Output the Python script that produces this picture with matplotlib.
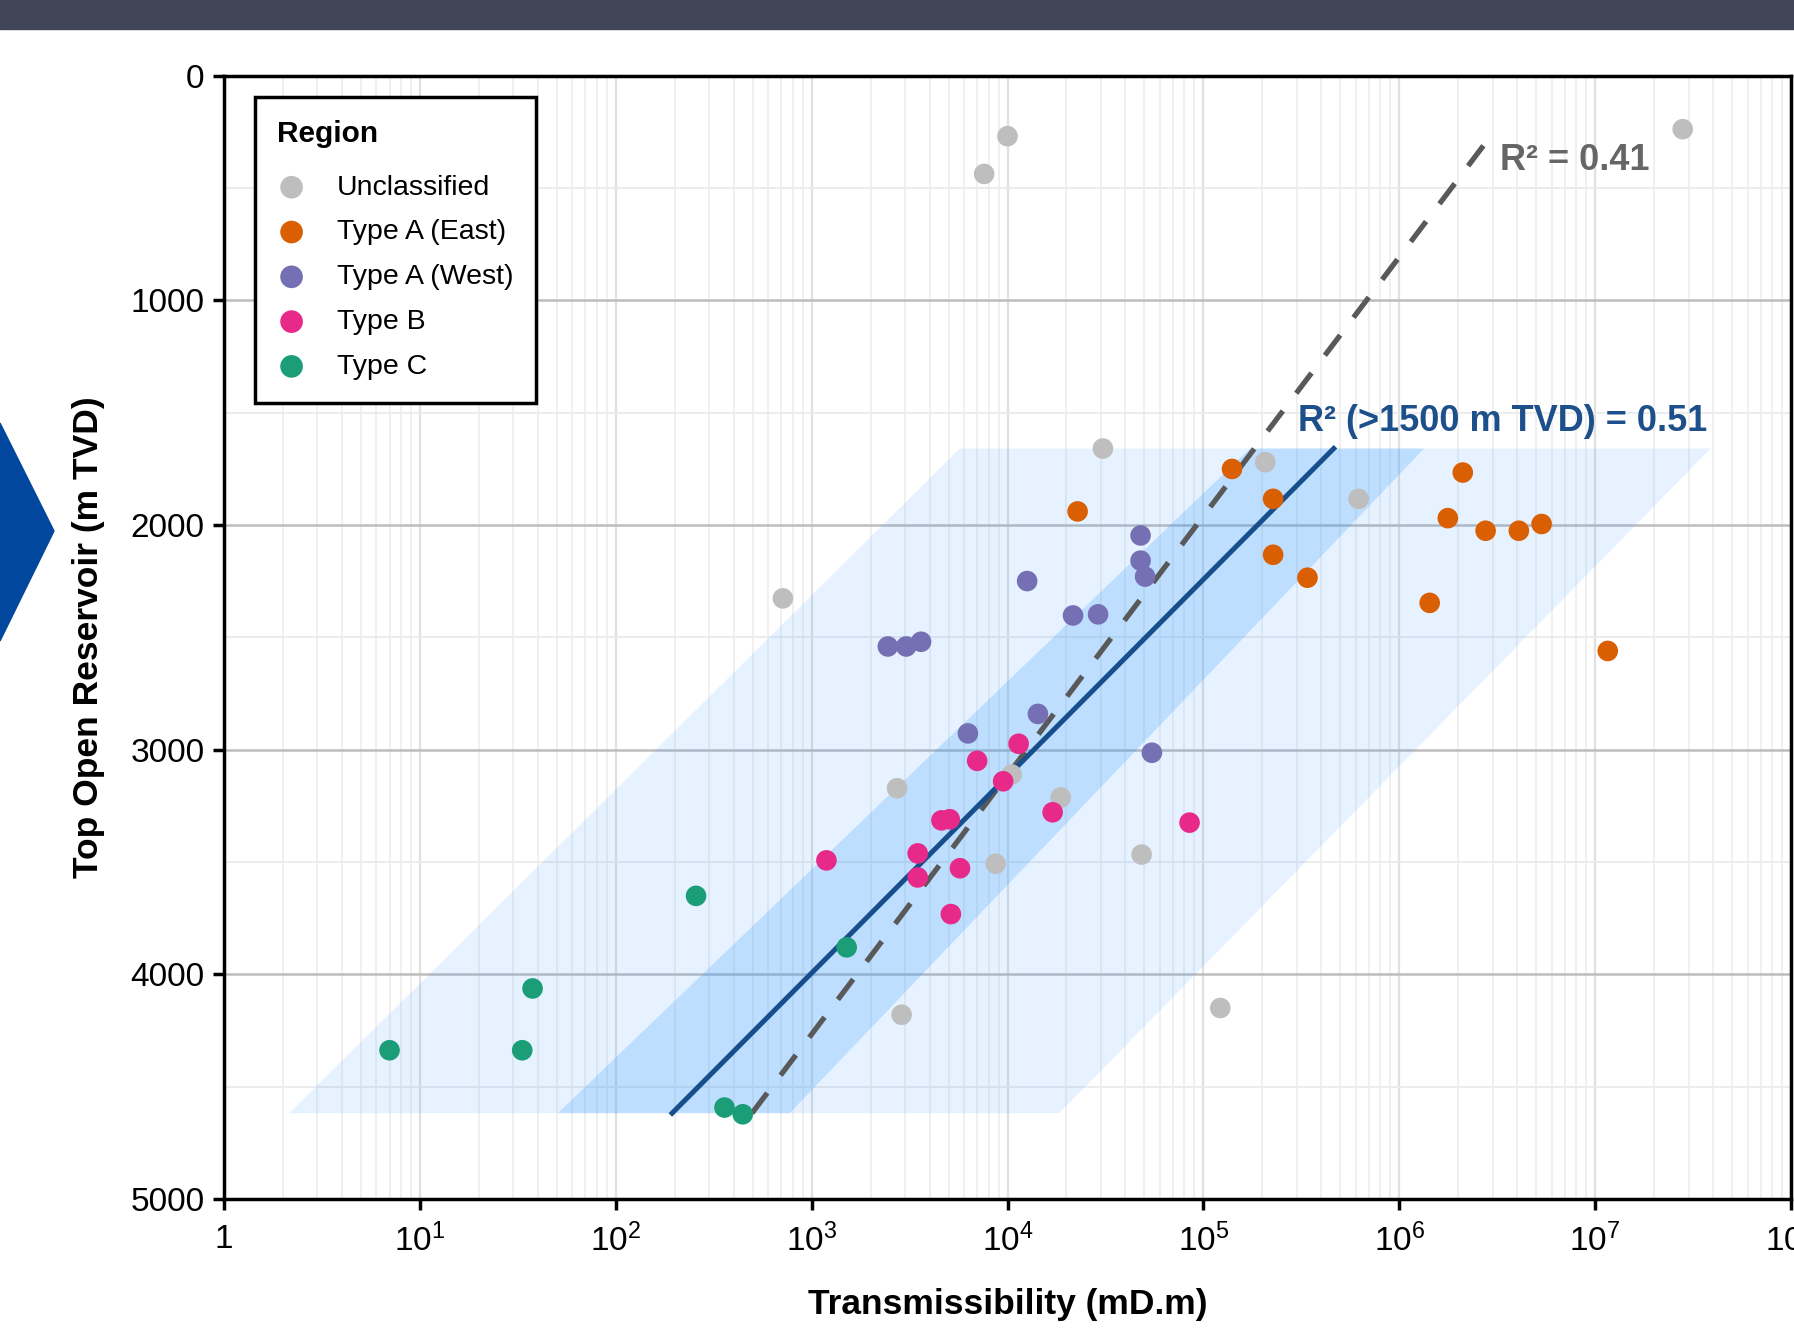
import numpy as np
import matplotlib.pyplot as plt
from matplotlib import ticker
from matplotlib.patches import Polygon, Rectangle

plt.rcParams.update({
    "font.family": "Liberation Sans",
    "mathtext.fontset": "custom",
    "mathtext.rm": "Liberation Sans",
    "mathtext.it": "Liberation Sans:italic",
    "mathtext.bf": "Liberation Sans:bold",
})

# points: transmissibility (mD.m), top open reservoir (m TVD)
unclass_t = [7.6e3, 1.0e4, 2.8e7, 3.07e4, 2.07e5, 6.2e5, 713, 2730, 1.87e4,
             1.05e4, 8.7e3, 4.84e4, 2.88e3, 1.22e5]
unclass_d = [438, 270, 239, 1660, 1721, 1884, 2327, 3172, 3213,
             3111, 3508, 3467, 4180, 4150]

east_t = [1.4e5, 2.11e6, 2.28e4, 2.27e5, 1.77e6, 2.76e6, 4.08e6, 5.33e6,
          2.27e5, 3.4e5, 1.43e6, 1.16e7]
east_d = [1751, 1767, 1940, 1884, 1970, 2026, 2026, 1996,
          2133, 2235, 2347, 2561]

west_t = [4.78e4, 4.78e4, 5.04e4, 1.26e4, 2.16e4, 2.9e4, 2.45e3, 3.04e3,
          3.62e3, 1.43e4, 6.28e3, 5.46e4]
west_d = [2047, 2159, 2230, 2250, 2403, 2398, 2541, 2541,
          2520, 2841, 2928, 3014]

typeb_t = [1.14e4, 7.0e3, 9.5e3, 1.7e4, 8.5e4, 4.6e3, 5.07e3, 1.19e3,
           3.48e3, 3.48e3, 5.72e3, 5.14e3]
typeb_d = [2974, 3050, 3141, 3279, 3325, 3315, 3310, 3493,
           3462, 3569, 3528, 3732]

typec_t = [257, 1.51e3, 37.6, 7.0, 33.3, 359, 445]
typec_d = [3651, 3880, 4063, 4338, 4338, 4593, 4623]

# fit lines and bands (corners)
fit_t = [194, 4.63e5]
fit_d = [4618, 1660]
all_fit_t = [496, 2.84e6]
all_fit_d = [4618, 285]
band_d = [4618, 4618, 1660, 1660]
outer_band_t = [2.15, 1.84e4, 3.89e7, 5.71e3]
inner_band_t = [50.6, 773, 1.34e6, 1.73e5]

x_ticks = [1, 1e1, 1e2, 1e3, 1e4, 1e5, 1e6, 1e7, 1e8]
x_tick_labels = ["1", "$10^{1}$", "$10^{2}$", "$10^{3}$", "$10^{4}$",
                 "$10^{5}$", "$10^{6}$", "$10^{7}$", "$10^{8}$"]
y_ticks = [0, 1000, 2000, 3000, 4000, 5000]

fig = plt.figure(figsize=(17.94, 13.35), dpi=100)
ax = fig.add_axes([224 / 1794, 136 / 1335, 1567 / 1794, 1123.5 / 1335])

# header bar and chevron from the slide
fig.add_artist(Rectangle((0, 1 - 29 / 1335), 1, 29 / 1335, transform=fig.transFigure,
                         color="#3f4556", zorder=0))
fig.add_artist(Polygon([(0, 1 - 423 / 1335), (54 / 1794, 1 - 531 / 1335), (0, 1 - 641 / 1335)],
                       closed=True, transform=fig.transFigure, color="#02479e"))

ax.fill(outer_band_t, band_d, color="#3399ff", alpha=0.12, lw=0, zorder=2)
ax.fill(inner_band_t, band_d, color="#3399ff", alpha=0.22, lw=0, zorder=2)

ax.plot(all_fit_t, all_fit_d, color="#595959", lw=3.8, ls=(0, (4.8, 4.2)), zorder=3)
ax.plot(fit_t, fit_d, color="#174f8c", lw=3.6, zorder=3)

groups = [
    (unclass_t, unclass_d, "#bebebe", "Unclassified"),
    (east_t, east_d, "#d95f02", "Type A (East)"),
    (west_t, west_d, "#7570b3", "Type A (West)"),
    (typeb_t, typeb_d, "#e7298a", "Type B"),
    (typec_t, typec_d, "#1b9e77", "Type C"),
]
for t, d, c, lab in groups:
    ax.scatter(t, d, s=220, color=c, edgecolors="none", label=lab, zorder=4)

ax.text(3.25e6, 377, "R² = 0.41", color="#666666", fontsize=26, fontweight="bold",
        ha="left", va="center", zorder=5)
ax.text(3.05e5, 1538, "R² (>1500 m TVD) = 0.51", color="#1d4f8a", fontsize=26,
        fontweight="bold", ha="left", va="center", zorder=5)

ax.set_xscale("log")
ax.set_xlim(1, 1e8)
ax.set_ylim(5000, 0)
ax.set_xticks(x_ticks)
ax.set_xticklabels(x_tick_labels)
ax.set_yticks(y_ticks)
ax.xaxis.set_minor_locator(ticker.LogLocator(base=10, subs=np.arange(2, 10), numticks=30))
ax.xaxis.set_minor_formatter(ticker.NullFormatter())
ax.yaxis.set_minor_locator(ticker.MultipleLocator(500))

ax.set_axisbelow(True)
ax.grid(which="major", axis="y", color="#bdbdbd", lw=1.8)
ax.grid(which="minor", axis="y", color="#ebebeb", lw=1.3)
ax.grid(which="major", axis="x", color="#e0e0e0", lw=1.6)
ax.grid(which="minor", axis="x", color="#ececec", lw=1.1)

ax.tick_params(which="major", length=8, width=2.5, labelsize=24, pad=6)
ax.tick_params(axis="x", which="major", pad=10)
ax.tick_params(which="minor", length=0)
for s in ax.spines.values():
    s.set_linewidth(2.5)

ax.set_xlabel("Transmissibility (mD.m)", fontsize=25.5, fontweight="bold", labelpad=21)
ax.set_ylabel("Top Open Reservoir (m TVD)", fontsize=25.5, fontweight="bold", labelpad=18.5)

leg = ax.legend(title="Region", loc="upper left", bbox_to_anchor=(0.0195, 0.981),
                fontsize=20.5, title_fontproperties={"weight": "bold", "size": 21.5},
                alignment="left", frameon=True, fancybox=False, framealpha=1,
                edgecolor="black", borderpad=0.8, handlelength=1.0,
                handletextpad=1.1, labelspacing=0.66, borderaxespad=0,
                scatterpoints=1, markerscale=1.1)
leg.get_frame().set_linewidth(2.5)
leg.set_zorder(6)
# a bit more room between the title and the first entry
leg._legend_box.sep = 19.5

fig.savefig("out.png", dpi=100)
